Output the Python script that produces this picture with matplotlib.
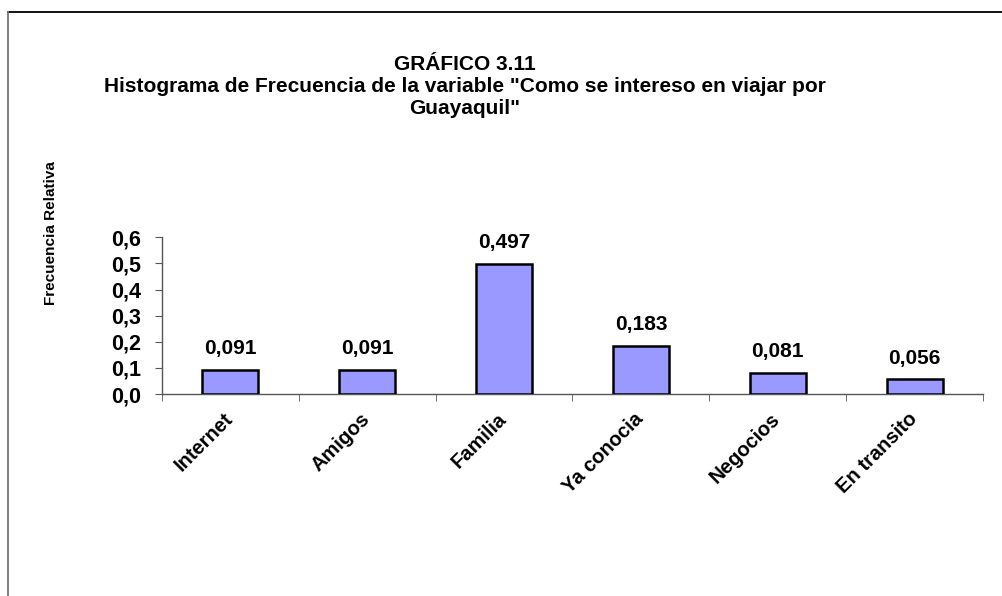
import matplotlib
matplotlib.use("Agg")
import matplotlib.pyplot as plt
from matplotlib.lines import Line2D
import matplotlib.transforms as mtransforms

categories = ["Internet", "Amigos", "Familia", "Ya conocia", "Negocios", "En transito"]
values = [0.091, 0.091, 0.497, 0.183, 0.081, 0.056]
value_labels = ["0,091", "0,091", "0,497", "0,183", "0,081", "0,056"]
ytick_values = [0.0, 0.1, 0.2, 0.3, 0.4, 0.5, 0.6]
ytick_labels = ["0,0", "0,1", "0,2", "0,3", "0,4", "0,5", "0,6"]
title_lines = ["GRÁFICO 3.11",
               "Histograma de Frecuencia de la variable \"Como se intereso en viajar por",
               "Guayaquil\""]
ylabel = "Frecuencia Relativa"

plt.rcParams['font.family'] = ['Liberation Sans', 'DejaVu Sans']
W, H = 1003, 596
fig = plt.figure(figsize=(W / 100, H / 100), dpi=100)

ax_left, ax_right = 162 / W, 983 / W
ax_bottom = 1 - 394 / H
ax_top = 1 - 237.3 / H
ax = fig.add_axes([ax_left, ax_bottom, ax_right - ax_left, ax_top - ax_bottom])

x = list(range(len(categories)))
ax.bar(x, values, width=0.41, color="#9999FF", edgecolor="black", linewidth=1.8, zorder=3)
for xi, v, lab in zip(x, values, value_labels):
    ax.annotate(lab, (xi, v), xytext=(0, 8.5), textcoords="offset points",
                ha="center", va="bottom", fontsize=15, fontweight="bold")

ax.set_xlim(-0.5, len(categories) - 0.5)
ax.set_ylim(0, 0.6)
ax.set_yticks(ytick_values)
ax.set_yticklabels(ytick_labels, fontsize=15.5, fontweight="bold")
ax.set_xticks(x)
ax.set_xticklabels(categories, rotation=45, ha="right", rotation_mode="anchor",
                   fontsize=14.5, fontweight="bold")
ax.tick_params(axis="x", length=0, pad=11)
ax.set_xticks([i - 0.5 for i in range(len(categories) + 1)], minor=True)
ax.tick_params(axis="x", which="minor", length=5, direction="out", color="#555555")
ax.tick_params(axis="y", length=5, direction="out", color="#555555", pad=10)
for s in ["top", "right"]:
    ax.spines[s].set_visible(False)
for s in ["left", "bottom"]:
    ax.spines[s].set_color("#555555")
    ax.spines[s].set_linewidth(1.0)

offset = mtransforms.ScaledTranslation(-7 / 100, 0, fig.dpi_scale_trans)
for lbl in ax.get_xticklabels():
    lbl.set_transform(lbl.get_transform() + offset)

title_y = [64, 86.5, 109]
for line, ty in zip(title_lines, title_y):
    fig.text(465 / W, 1 - ty / H, line, ha="center", va="center", fontsize=15, fontweight="bold")

fig.text(51.5 / W, 1 - 233 / H, ylabel, rotation=90, ha="center", va="center",
         fontsize=11, fontweight="bold")

fig.add_artist(Line2D([8 / W, 1.0], [1 - 12 / H, 1 - 12 / H], color="black", linewidth=1.3,
                      transform=fig.transFigure))
fig.add_artist(Line2D([8 / W, 8 / W], [1 - 12 / H, 0.0], color="#777777", linewidth=1.3,
                      transform=fig.transFigure))

fig.savefig("out.png", dpi=100)
